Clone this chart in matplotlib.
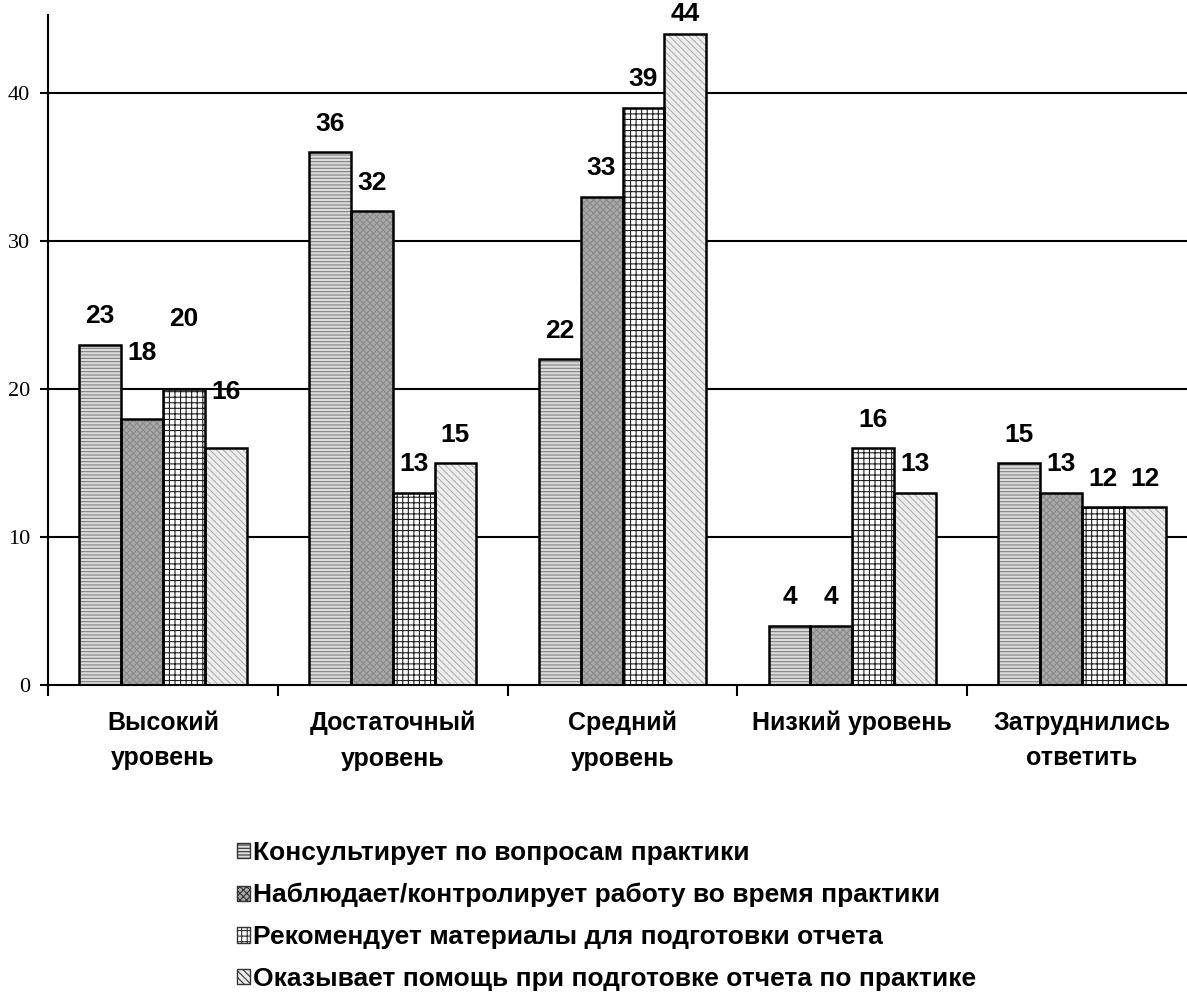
import matplotlib
matplotlib.use("Agg")
import matplotlib.pyplot as plt
import numpy as np
from matplotlib.patches import Patch

CATEGORIES = ["Высокий\nуровень", "Достаточный\nуровень", "Средний\nуровень",
              "Низкий уровень", "Затруднились\nответить"]
SERIES = [
    "Консультирует по вопросам практики",
    "Наблюдает/контролирует работу во время практики",
    "Рекомендует материалы для подготовки отчета",
    "Оказывает помощь при подготовке отчета по практике",
]
KONSULT = [23, 36, 22, 4, 15]
NABLUD = [18, 32, 33, 4, 13]
REKOM = [20, 13, 39, 16, 12]
POMOSH = [16, 15, 44, 13, 12]
VALUES = [KONSULT, NABLUD, REKOM, POMOSH]
Y_TICKS = [0, 10, 20, 30, 40]

# (face, hatch, hatch colour) per series - imitates the excel fill patterns
STYLES = [
    ("#dcdcdc", "-----", "#808080"),
    ("#a8a8a8", "xxxxx", "#8a8a8a"),
    ("#ffffff", "+++", "#202020"),
    ("#eeeeee", "\\\\\\\\\\", "#b0b0b0"),
]
# hand-moved data labels in the original, keyed (series, group), extra points upward
LABEL_NUDGE = {(1, 0): 27, (2, 0): 30, (3, 0): 20, (3, 2): -6}

plt.rcParams["hatch.linewidth"] = 0.8
SANS = "Liberation Sans"
SERIF = "Liberation Serif"

fig = plt.figure(figsize=(11.87, 10.01), dpi=100)
W, H = 1187, 1001
ax = fig.add_axes([48 / W, 1 - 685 / H, (1197 - 48) / W, (685 - 15) / H])

x = np.arange(len(CATEGORIES))
w = 0.182
for i, vals in enumerate(VALUES):
    fc, hatch, hc = STYLES[i]
    xs = x + (i - 1.5) * w
    ax.bar(xs, vals, w, color=fc, hatch=hatch, edgecolor=hc, linewidth=0, zorder=2)
    ax.bar(xs, vals, w, fill=False, edgecolor="black", linewidth=1.8, zorder=3)
    for j, v in enumerate(vals):
        off = 20.5 + LABEL_NUDGE.get((i, j), 0)
        ax.annotate(str(v), (xs[j], v), xytext=(0, off), textcoords="offset points",
                    ha="center", va="center", fontsize=19, fontweight="bold",
                    family=SANS, zorder=4)

ax.set_xlim(-0.5, len(CATEGORIES) - 0.5)
ax.set_ylim(0, 45.27)
ax.set_yticks(Y_TICKS)
ax.set_yticklabels([str(t) for t in Y_TICKS], family=SERIF, fontsize=16)
ax.tick_params(axis="y", direction="out", length=6, width=1.5, pad=7)
for t in Y_TICKS[1:]:
    ax.axhline(t, color="black", lw=1.5, zorder=1)

ax.set_xticks(np.arange(len(CATEGORIES) + 1) - 0.5)
ax.set_xticklabels([])
ax.tick_params(axis="x", which="major", direction="out", length=8, width=1.5)
ax.set_xticks(x, minor=True)
ax.set_xticklabels(CATEGORIES, minor=True, family=SANS, fontsize=18,
                   fontweight="bold", linespacing=1.62)
ax.tick_params(axis="x", which="minor", length=0, pad=18.5)

for s in ("top", "right"):
    ax.spines[s].set_visible(False)
for s in ("left", "bottom"):
    ax.spines[s].set_linewidth(1.5)

handles = [Patch(facecolor=fc, hatch=h, edgecolor="#333333", linewidth=1.0)
           for fc, h, hc in STYLES]
fig.legend(handles, SERIES, loc="upper left", bbox_to_anchor=(237 / W, 1 - 841 / H),
           frameon=False, borderpad=0, borderaxespad=0, handlelength=0.5,
           handleheight=0.5, handletextpad=0.12, labelspacing=0.68,
           prop={"family": SANS, "weight": "bold", "size": 19})

fig.savefig("out.png", dpi=100)
